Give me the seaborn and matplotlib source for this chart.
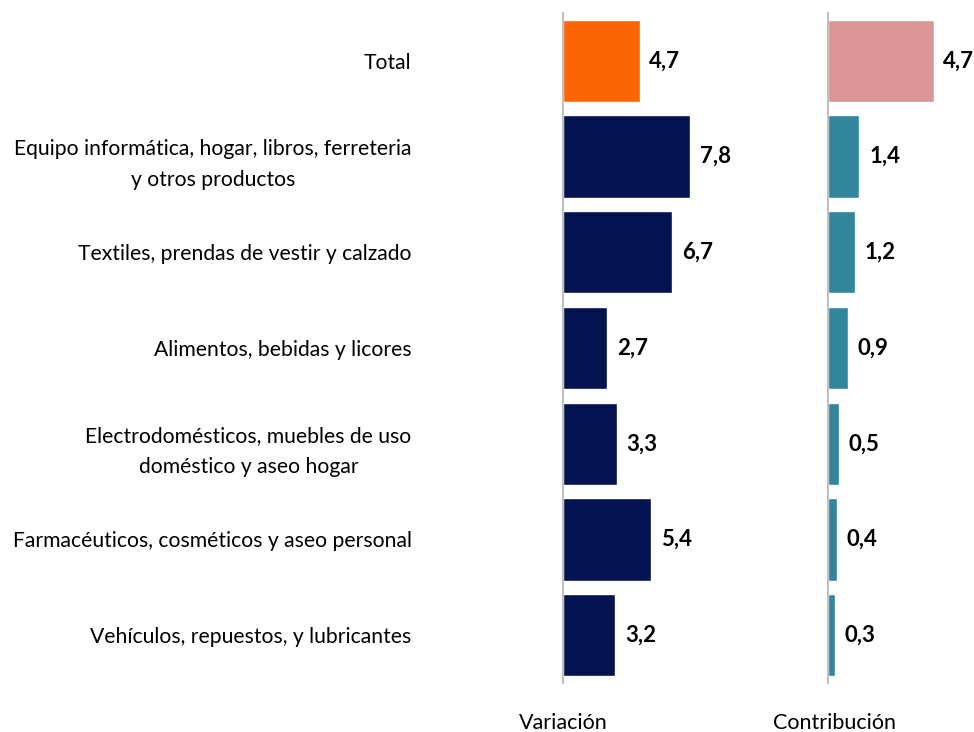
import matplotlib
matplotlib.use("Agg")
import pandas as pd
import seaborn as sns
import matplotlib.pyplot as plt
import matplotlib.transforms as mtransforms

# Data
categories = [
    "Total",
    "Equipo informática, hogar, libros, ferreteria\ny otros productos",
    "Textiles, prendas de vestir y calzado",
    "Alimentos, bebidas y licores",
    "Electrodomésticos, muebles de uso\ndoméstico y aseo hogar",
    "Farmacéuticos, cosméticos y aseo personal",
    "Vehículos, repuestos, y lubricantes",
]
variacion = [4.7, 7.8, 6.7, 2.7, 3.3, 5.4, 3.2]
contribucion = [4.7, 1.4, 1.2, 0.9, 0.5, 0.4, 0.3]

var_colors = ["#FB6505"] + ["#03134F"] * 6
con_colors = ["#DA9594"] + ["#31869B"] * 6

sns.set_style("white")
plt.rcParams["font.family"] = ["Lato", "DejaVu Sans"]

df = pd.DataFrame({"cat": categories, "var": variacion, "con": contribucion})

fig = plt.figure(figsize=(9.74, 7.32), dpi=100)
ax1 = fig.add_axes([0.578, 0.0669, 0.2125, 0.9153])
ax2 = fig.add_axes([0.850, 0.0669, 0.1437, 0.9153])

sns.barplot(data=df, x="var", y="cat", hue="cat", palette=var_colors,
            legend=False, width=0.86, ax=ax1, orient="h", saturation=1)
sns.barplot(data=df, x="con", y="cat", hue="cat", palette=con_colors,
            legend=False, width=0.86, ax=ax2, orient="h", saturation=1)

for ax, vals, xmax, name, shift in [(ax1, variacion, 12.7, "Variación", 0),
                                    (ax2, contribucion, 6.22, "Contribución", 5)]:
    ax.set_xlim(0, xmax)
    ax.set_ylim(6.5, -0.5)
    ax.set_xlabel("")
    ax.set_ylabel("")
    ax.set_xticks([])
    for side in ["top", "right", "bottom"]:
        ax.spines[side].set_visible(False)
    ax.spines["left"].set_color("#BFBFBF")
    ax.spines["left"].set_linewidth(1.5)
    for i, v in enumerate(vals):
        ax.annotate(f"{v:.1f}".replace(".", ","), (v, i), xytext=(7, 0),
                    textcoords="offset points", ha="left", va="center",
                    fontsize=16, fontweight="bold", color="#000000")
    trans = mtransforms.blended_transform_factory(ax.transData, fig.transFigure)
    ax.annotate(name, (0, 0.012), xycoords=trans, xytext=(shift, 0),
                textcoords="offset points", ha="center", va="center",
                fontsize=15.5, color="#000000")

ax1.tick_params(axis="y", length=0, pad=109, labelsize=15.2, labelcolor="#000000")
for lbl in ax1.get_yticklabels():
    lbl.set_multialignment("center")
    lbl.set_linespacing(1.7)
ax2.set_yticks([])

fig.savefig("out.png", dpi=100)
